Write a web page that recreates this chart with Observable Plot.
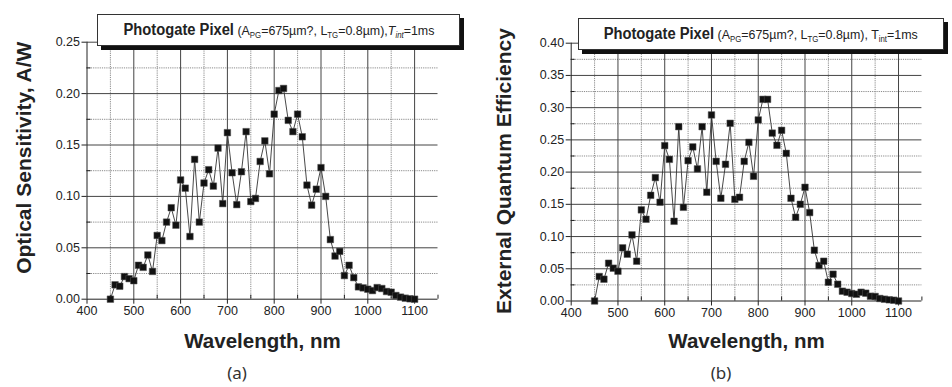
<!DOCTYPE html>
<html>
<head>
<meta charset="utf-8">
<script src="https://cdn.jsdelivr.net/npm/d3@7"></script>
<script src="https://cdn.jsdelivr.net/npm/@observablehq/plot@0.6"></script>
<style>
  html, body { margin: 0; padding: 0; background: #fff; }
  #wrap { position: relative; width: 952px; height: 387px; overflow: hidden; font-family: "Liberation Sans", Arial, sans-serif; }
  .panel { position: absolute; top: 0; }
  .panel svg { overflow: visible; }
  .tbox { position: absolute; background: #fff; border: 1px solid #333; box-shadow: 4px 4px 0 #111; box-sizing: border-box;
          display: flex; align-items: center; justify-content: center; white-space: nowrap; color: #222; }
  .tbox .inner { display: inline-block; transform: scaleX(0.92); transform-origin: center; }
  .tbox b { font-size: 16px; }
  .tbox .rest { font-size: 13.5px; }
  .tbox sub { font-size: 8.5px; vertical-align: -3px; }
  .cap { position: absolute; top: 361px; font-family: "Noto Sans", sans-serif; font-size: 17px; color: #333; transform: translateX(-50%); }
</style>
</head>
<body>
<div id="wrap">
  <div class="panel" id="pa" style="left:0px"></div>
  <div class="panel" id="pb" style="left:476px"></div>
  <div class="tbox" style="left:97px; top:14px; width:363px; height:32px;">
    <span class="inner"><b>Photogate Pixel</b><span class="rest"> (A<sub>PG</sub>=675µm?, L<sub>TG</sub>=0.8µm),<i>T<sub>int</sub></i>=1ms</span></span>
  </div>
  <div class="tbox" style="left:578px; top:18px; width:366px; height:32px;">
    <span class="inner"><b>Photogate Pixel</b><span class="rest"> (A<sub>PG</sub>=675µm?, L<sub>TG</sub>=0.8µm), T<sub>int</sub>=1ms</span></span>
  </div>
  <div class="cap" style="left:237px">(a)</div>
  <div class="cap" style="left:721px">(b)</div>
</div>
<script>
// ---- data ----
const wavelength = [450,460,470,480,490,500,510,520,530,540,550,560,570,580,590,600,610,620,630,640,650,660,670,680,690,700,710,720,730,740,750,760,770,780,790,800,810,820,830,840,850,860,870,880,890,900,910,920,930,940,950,960,970,980,990,1000,1010,1020,1030,1040,1050,1060,1070,1080,1090,1100];

const sensitivity = [0,0.014,0.0126,0.022,0.020,0.018,0.033,0.031,0.043,0.027,0.062,0.057,0.075,0.089,0.072,0.116,0.108,0.061,0.136,0.075,0.113,0.126,0.110,0.147,0.093,0.162,0.123,0.092,0.124,0.163,0.095,0.098,0.134,0.154,0.122,0.180,0.203,0.205,0.174,0.163,0.180,0.158,0.111,0.0915,0.107,0.128,0.100,0.058,0.042,0.0465,0.023,0.033,0.021,0.012,0.011,0.0097,0.0084,0.0113,0.0104,0.0075,0.0068,0.0036,0.002,0.001,0.0004,0];

const eqe = [0,0.038,0.0338,0.0586,0.0509,0.0462,0.0825,0.0726,0.1026,0.0617,0.1414,0.1268,0.164,0.1915,0.1532,0.2411,0.2198,0.1237,0.2705,0.1454,0.2178,0.2391,0.205,0.2705,0.1687,0.2887,0.2167,0.1594,0.2121,0.2757,0.1578,0.1609,0.2167,0.2462,0.1935,0.2809,0.3129,0.3129,0.2605,0.2416,0.2648,0.2291,0.1594,0.1299,0.1501,0.1764,0.1372,0.0788,0.055,0.0617,0.0291,0.0416,0.026,0.0152,0.0136,0.0116,0.0105,0.0136,0.0121,0.0074,0.007,0.0039,0.0028,0.0019,0.0012,0];

const xDomain = [400, 1150];
const xMajorTicks = [400,500,600,700,800,900,1000,1100];
const xMinorTicks = [450,550,650,750,850,950,1050,1150];

const yDomainA = [0, 0.25];
const yMajorA = [0,0.05,0.10,0.15,0.20,0.25];
const yMinorA = [0.025,0.075,0.125,0.175,0.225];

const yDomainB = [0, 0.40];
const yMajorB = [0,0.05,0.10,0.15,0.20,0.25,0.30,0.35,0.40];
const yMinorB = [0.025,0.075,0.125,0.175,0.225,0.275,0.325,0.375];

const xLabel = "Wavelength, nm";
const yLabelA = "Optical Sensitivity, A/W";
const yLabelB = "External Quantum Efficiency";

function makeChart({values, yDomain, yMajor, yMinor, yLabel, m}) {
  const data = wavelength.map((w, i) => ({w, v: values[i]}));
  const gridXMinor = xMinorTicks.filter(d => d < xDomain[1]);
  const gridXMajor = xMajorTicks.filter(d => d > xDomain[0]);
  const gridYMajor = yMajor.filter(d => d > yDomain[0]);
  return Plot.plot({
    width: 476,
    height: 387,
    marginLeft: m.left, marginRight: m.right, marginTop: m.top, marginBottom: m.bottom,
    style: {fontFamily: "'Liberation Sans', Arial, sans-serif", fontSize: "12px", color: "#222", background: "transparent", overflow: "visible"},
    x: {domain: xDomain},
    y: {domain: yDomain},
    marks: [
      Plot.gridX(gridXMinor, {stroke: "#8a8a8a", strokeOpacity: 1, strokeDasharray: "1.2,1", strokeWidth: 1}),
      Plot.gridY(yMinor, {stroke: "#8a8a8a", strokeOpacity: 1, strokeDasharray: "1.2,1", strokeWidth: 1}),
      Plot.gridX(gridXMajor, {stroke: "#444", strokeOpacity: 1, strokeWidth: 1}),
      Plot.gridY(gridYMajor, {stroke: "#444", strokeOpacity: 1, strokeWidth: 1}),
      Plot.ruleX([xDomain[0]], {stroke: "#222", strokeWidth: 1}),
      Plot.ruleY([yDomain[0]], {stroke: "#222", strokeWidth: 1}),
      Plot.axisX(xMajorTicks, {anchor: "bottom", tickSize: 5, tickPadding: 2, fontSize: 12.5, tickFormat: d => String(d), label: null, stroke: "#222"}),
      Plot.axisX(xMinorTicks, {anchor: "bottom", tickSize: 4, dy: -4, tickFormat: () => "", label: null, stroke: "#222"}),
      Plot.axisY(yMajor, {anchor: "left", tickSize: 5, tickPadding: 2, fontSize: 12.5, tickFormat: d => d.toFixed(2), label: null, stroke: "#222"}),
      Plot.axisY(yMinor, {anchor: "left", tickSize: 4, dx: 4, tickFormat: () => "", label: null, stroke: "#222"}),
      Plot.text([xLabel], {text: d => d, frameAnchor: "bottom", lineAnchor: "middle", dy: m.xLabelDy, fontSize: 20.5, fontWeight: "bold", fill: "#222"}),
      Plot.text([yLabel], {text: d => d, frameAnchor: "left", textAnchor: "middle", lineAnchor: "middle", rotate: -90, dx: m.yLabelDx, dy: m.yLabelDy, fontSize: 21, fontWeight: "bold", fill: "#222"}),
      Plot.line(data, {x: "w", y: "v", stroke: "#333", strokeWidth: 0.9}),
      Plot.dot(data, {x: "w", y: "v", symbol: "square", r: 3.7, fill: "#111", stroke: "#555", strokeWidth: 0.5})
    ]
  });
}

document.getElementById("pa").append(makeChart({
  values: sensitivity, yDomain: yDomainA, yMajor: yMajorA, yMinor: yMinorA, yLabel: yLabelA,
  m: {left: 86.5, right: 38.5, top: 41.7, bottom: 88.3, xLabelDy: 42, yLabelDx: -63, yLabelDy: -13}
}));
document.getElementById("pb").append(makeChart({
  values: eqe, yDomain: yDomainB, yMajor: yMajorB, yMinor: yMinorB, yLabel: yLabelB,
  m: {left: 94.7, right: 30.6, top: 42.7, bottom: 86.5, xLabelDy: 40.5, yLabelDx: -67, yLabelDy: -1}
}));
</script>
</body>
</html>
